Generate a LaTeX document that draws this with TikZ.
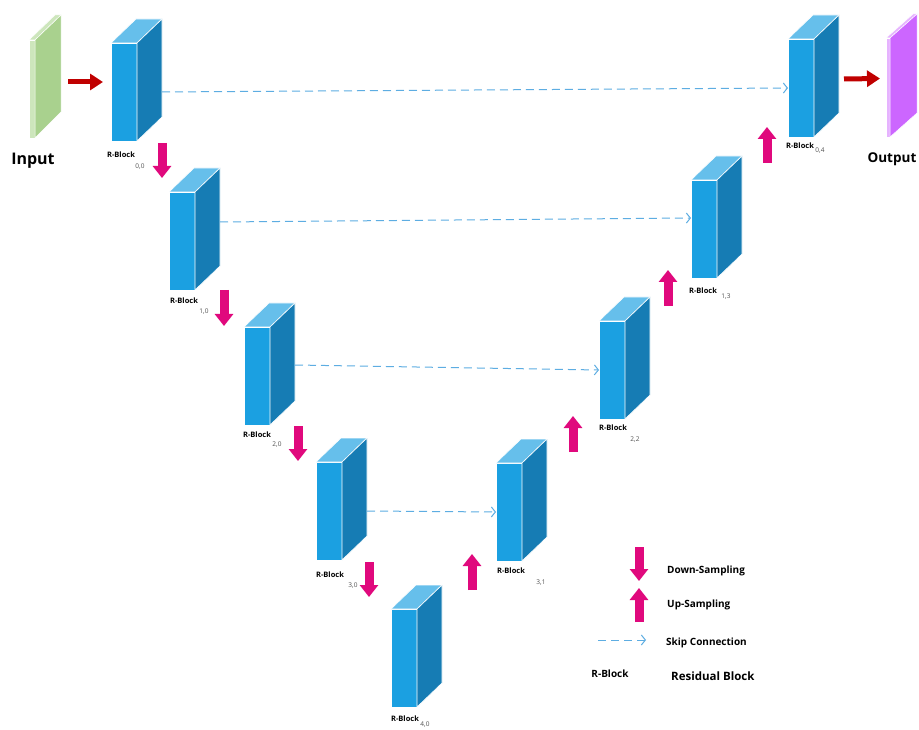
\documentclass[tikz,border=0pt]{standalone}
\usepackage{fontspec}
\setmainfont{Open Sans}
\usetikzlibrary{arrows.meta,calc}

\definecolor{blkfront}{HTML}{1BA0E1}
\definecolor{blkside}{HTML}{167CB4}
\definecolor{blktop}{HTML}{66BFEB}
\definecolor{ingreen}{HTML}{A9D18E}
\definecolor{ingreenlt}{HTML}{CDE6BC}
\definecolor{outpurple}{HTML}{CC66FF}
\definecolor{outpurplelt}{HTML}{E6B3FF}
\definecolor{sampink}{HTML}{E0097D}
\definecolor{flowred}{HTML}{C00000}
\definecolor{skipblue}{HTML}{5DADE2}
\definecolor{subgray}{HTML}{505050}

\tikzset{
  blockfront/.style={draw=white, line width=0.6pt, fill=blkfront, minimum width=26pt,
    minimum height=98pt, inner sep=0pt, outer sep=0pt, anchor=north west},
  blockside/.style={draw=white, line width=0.6pt, fill=blkside},
  blocktop/.style={draw=white, line width=0.6pt, fill=blktop},
  rlabel/.style={font=\bfseries\fontsize{7.5}{9}\selectfont, inner sep=0pt},
  sublabel/.style={font=\fontsize{6.5}{8}\selectfont, text=subgray, inner sep=0pt},
  bigtext/.style={font=\bfseries\fontsize{16}{19}\selectfont, inner sep=0pt},
  legendtext/.style={font=\bfseries\fontsize{10}{12}\selectfont, inner sep=0pt, anchor=west},
  skipline/.style={draw=skipblue, line width=1pt, dash pattern=on 8pt off 5pt,
    -{Straight Barb[length=4pt,width=10pt]}},
  samplearrow/.style={draw=sampink, line width=9pt, -{Triangle[length=12pt,width=18pt]}},
  flowarrow/.style={draw=flowred, line width=5pt, -{Triangle[length=13pt,width=16pt]}},
}

% residual block: front face node plus its top and side faces
\newcommand\rblock[3]{%
  \node[blockfront] (#1) at (#2,#3) {};
  \filldraw[blocktop] (#1.north west) -- ++(25,-24) -- ++(26,0) -- (#1.north east) -- cycle;
  \filldraw[blockside] (#1.north east) -- ++(25,-24) -- ++(0,98) -- (#1.south east) -- cycle;
}

\begin{document}
\begin{tikzpicture}[x=1pt,y=-1pt]
\useasboundingbox[fill=white] (0,0) rectangle (919,730);

% input slab
\node[draw=white, line width=0.5pt, fill=ingreenlt, minimum width=6pt, minimum height=98pt,
  inner sep=0pt, outer sep=0pt, anchor=north west] (inslab) at (29,40) {};
\filldraw[draw=white, line width=0.5pt, fill=ingreenlt] (inslab.north west) -- ++(26,-25) -- ++(6,0) -- (inslab.north east) -- cycle;
\filldraw[draw=white, line width=0.5pt, fill=ingreen] (inslab.north east) -- ++(26,-25) -- ++(0,97) -- (inslab.south east) -- cycle;
\node[bigtext] (intext) at (33,161) {Input};

% output slab
\node[draw=white, line width=0.5pt, fill=outpurplelt, minimum width=4pt, minimum height=99pt,
  inner sep=0pt, outer sep=0pt, anchor=north west] (outslab) at (886,38) {};
\filldraw[draw=white, line width=0.5pt, fill=outpurplelt] (outslab.north west) -- ++(27,-24) -- ++(4,0) -- (outslab.north east) -- cycle;
\filldraw[draw=white, line width=0.5pt, fill=outpurple] (outslab.north east) -- ++(27,-24) -- ++(0,99) -- (outslab.south east) -- cycle;
\node[bigtext, font=\bfseries\fontsize{13.5}{16}\selectfont] (outtext) at (892,159) {Output};

% encoder and decoder blocks
\rblock{b00}{111}{43}
\rblock{b10}{169}{192}
\rblock{b20}{244}{327}
\rblock{b30}{316}{462}
\rblock{b40}{391}{609}
\rblock{b31}{496}{463}
\rblock{b22}{599}{321}
\rblock{b13}{691}{180}
\rblock{b04}{788}{39}

% block labels
\node[rlabel] (lb00) at (121,155) {R-Block};  \node[sublabel] (sb00) at (140,167) {0,0};
\node[rlabel] (lb10) at (184,301) {R-Block};  \node[sublabel] (sb10) at (204,312) {1,0};
\node[rlabel] (lb20) at (257,435) {R-Block};  \node[sublabel] (sb20) at (277,445) {2,0};
\node[rlabel] (lb30) at (330,575) {R-Block};  \node[sublabel] (sb30) at (353,586) {3,0};
\node[rlabel] (lb40) at (405,719) {R-Block};  \node[sublabel] (sb40) at (425,725) {4,0};
\node[rlabel] (lb31) at (511,571) {R-Block};  \node[sublabel] (sb31) at (541,583) {3,1};
\node[rlabel] (lb22) at (613,428) {R-Block};  \node[sublabel] (sb22) at (635,440) {2,2};
\node[rlabel] (lb13) at (703,291) {R-Block};  \node[sublabel] (sb13) at (726,297) {1,3};
\node[rlabel] (lb04) at (800,146) {R-Block};  \node[sublabel] (sb04) at (820,151) {0,4};

% input / output flow
\draw[flowarrow] ([shift={(33,-7)}]inslab.east) -- ([shift={(-8,-10)}]b00.west);
\draw[flowarrow] ([shift={(30,-9)}]b04.east) -- ([shift={(-6,-9)}]outslab.west);

% skip connections
\draw[skipline] ([shift={(25,0)}]b00.east) -- (b04.west);
\draw[skipline] ([shift={(25,-19)}]b10.east) -- ([shift={(0,-11)}]b13.west);
\draw[skipline] ([shift={(25,-11)}]b20.east) -- (b22.west);
\draw[skipline] ([shift={(25,0)}]b30.east) -- (b31.west);

% down-sampling
\coordinate (d1a) at (162,143); \coordinate (d1b) at (162,178);
\coordinate (d2a) at (224,290); \coordinate (d2b) at (224,326);
\coordinate (d3a) at (298,426); \coordinate (d3b) at (298,461);
\coordinate (d4a) at (369,562); \coordinate (d4b) at (369,597);
\draw[samplearrow] (d1a) -- (d1b);
\draw[samplearrow] (d2a) -- (d2b);
\draw[samplearrow] (d3a) -- (d3b);
\draw[samplearrow] (d4a) -- (d4b);

% up-sampling
\coordinate (u1a) at (472,590); \coordinate (u1b) at (472,554);
\coordinate (u2a) at (573,452); \coordinate (u2b) at (573,416);
\coordinate (u3a) at (668,306); \coordinate (u3b) at (668,270);
\coordinate (u4a) at (767,163); \coordinate (u4b) at (767,127);
\draw[samplearrow] (u1a) -- (u1b);
\draw[samplearrow] (u2a) -- (u2b);
\draw[samplearrow] (u3a) -- (u3b);
\draw[samplearrow] (u4a) -- (u4b);

% legend
\coordinate (ldA) at (639,547); \coordinate (ldB) at (639,581);
\coordinate (luA) at (639,622); \coordinate (luB) at (639,588);
\coordinate (lsA) at (598,640); \coordinate (lsB) at (646,640);
\draw[samplearrow] (ldA) -- (ldB);
\draw[samplearrow] (luA) -- (luB);
\draw[skipline] (lsA) -- (lsB);
\node[legendtext] (tdown) at (667,571) {Down-Sampling};
\node[legendtext] (tup) at (667,605) {Up-Sampling};
\node[legendtext] (tskip) at (666,643) {Skip Connection};
\node[rlabel, font=\bfseries\fontsize{10}{12}\selectfont] (trb) at (610,674) {R-Block};
\node[legendtext, font=\bfseries\fontsize{11.5}{14}\selectfont] (tres) at (671,676) {Residual Block};
\end{tikzpicture}
\end{document}
